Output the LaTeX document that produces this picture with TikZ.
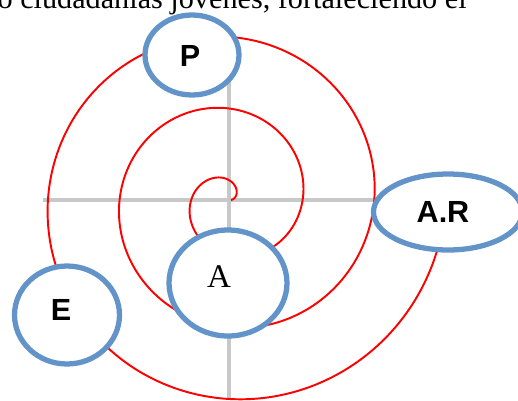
\documentclass[tikz,border=0pt]{standalone}
\usepackage{fontspec}
\setmainfont{Liberation Serif}
\setsansfont{Liberation Sans}
\usepackage{tikz}
\usetikzlibrary{shapes.geometric}
\definecolor{ringblue}{RGB}{99,148,201}
\definecolor{axisgray}{RGB}{200,200,200}
\tikzset{
  ring/.style={ellipse, draw=ringblue, line width=3pt, fill=white, inner sep=0pt},
  lbl/.style={font=\fontsize{17.4}{20}\selectfont\sffamily\bfseries},
  axis/.style={draw=axisgray, line width=1.8pt},
  spiral/.style={draw=red, line width=1.1pt}}

\begin{document}
\begin{tikzpicture}[x=0.02cm, y=-0.02cm]
  \useasboundingbox (0,0) rectangle (518,400);
  \clip (0,0) rectangle (518,400);
  % text line cut off above the figure
  \node[anchor=base east, inner sep=0pt, font=\fontsize{17.2}{20}\selectfont] (txt) at (467,8) {o ciudadanías jóvenes, fortaleciendo el};
  % axes
  \coordinate (xl) at (43,200);
  \coordinate (xr) at (410,200);
  \coordinate (yt) at (229,60);
  \coordinate (yb) at (229,400);
  \draw[axis] (xl) -- (xr);
  \draw[axis] (yt) -- (yb);
  % spiral
  \draw[spiral] plot[domain=0:18.7, samples=400, smooth, variable=\t]
    ({229+(11.4*\t+2)*cos(\t r)}, {200-(11.4*\t+2)*sin(\t r)});
  % rings
  \node[ring, minimum width=1.88cm, minimum height=1.60cm,
    label={[lbl, xshift=-0.04cm, yshift=-0.02cm]center:P}] (p) at (192,55) {};
  \node[ring, minimum width=2.98cm, minimum height=1.52cm,
    label={[lbl, xshift=-0.10cm]center:A.R}] (ar) at (448,212) {};
  \node[ring, minimum width=2.36cm, minimum height=2.12cm,
    label={[font=\fontsize{18.8}{22}\selectfont, xshift=-0.18cm, yshift=0.12cm]center:A}] (a) at (228,283) {};
  \node[ring, minimum width=2.10cm, minimum height=1.96cm,
    label={[lbl, xshift=-0.12cm, yshift=0.10cm]center:E}] (e) at (67,315) {};
\end{tikzpicture}
\end{document}
